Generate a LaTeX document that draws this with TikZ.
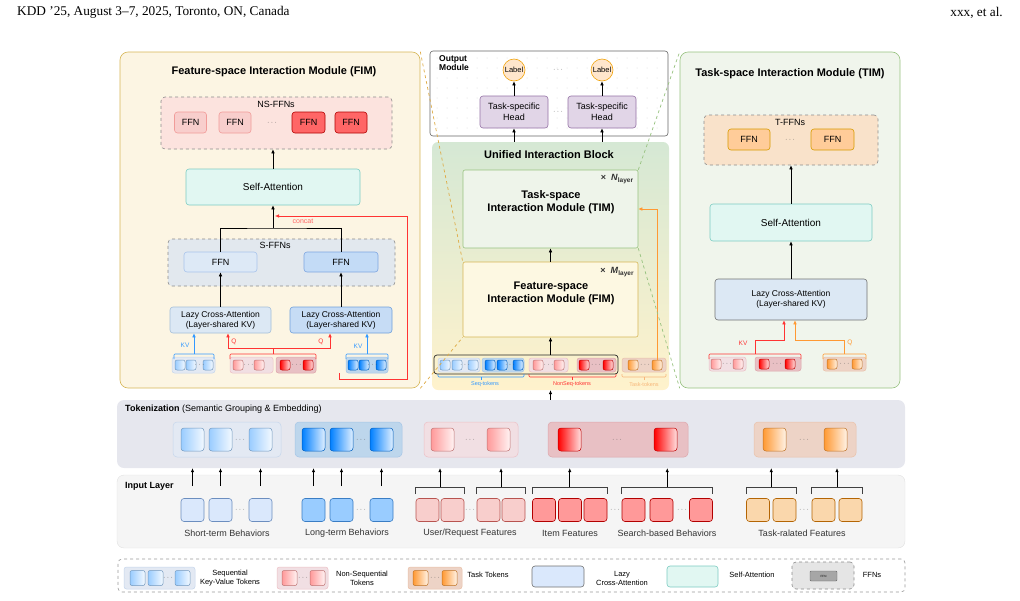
\documentclass[tikz,border=0pt]{standalone}
\usepackage{fontspec}
\setmainfont{Liberation Sans}
\newfontfamily\hdrfont[Ligatures=TeX]{Liberation Serif}
\usepackage{xcolor}
\usetikzlibrary{arrows.meta}

% panel colours
\definecolor{fimfill}{HTML}{FCF5E3}
\definecolor{fimline}{HTML}{D6B656}
\definecolor{timfill}{HTML}{F0F5EC}
\definecolor{timline}{HTML}{97C27F}
\definecolor{nsfill}{HTML}{FCE3DE}
\definecolor{sfill}{HTML}{E2E8EE}
\definecolor{tfill}{HTML}{F9E2CA}
\definecolor{safill}{HTML}{E1F7F2}
\definecolor{saline}{HTML}{7DCCC2}
\definecolor{lcafill}{HTML}{DCE8F4}
\definecolor{lcaline}{HTML}{A4BFD9}
\definecolor{lcafillb}{HTML}{C6DCF5}
\definecolor{lcalineb}{HTML}{6FA0DC}
\definecolor{ffnfill}{HTML}{DDE9F6}
\definecolor{ffnline}{HTML}{A9C4EB}
\definecolor{ffnfillb}{HTML}{C3DBF6}
\definecolor{ffnlineb}{HTML}{7EA6E0}
\definecolor{nslf}{HTML}{F8CECC}
\definecolor{nslline}{HTML}{F19C99}
\definecolor{nsdf}{HTML}{FF6666}
\definecolor{nsdline}{HTML}{B20000}
\definecolor{tffn}{HTML}{FFCC99}
\definecolor{tffnline}{HTML}{D79B00}
\definecolor{headfill}{HTML}{E1D5E7}
\definecolor{headline}{HTML}{9673A6}
\definecolor{labfill}{HTML}{FFE6CC}
\definecolor{labline}{HTML}{F0A30A}
\definecolor{uibtop}{HTML}{D5E8D4}
\definecolor{uibbot}{HTML}{FFF2CC}
\definecolor{timbox}{HTML}{EEF4EA}
\definecolor{fimbox}{HTML}{FDF8E2}
\definecolor{tokzfill}{HTML}{E6E7EE}
\definecolor{inpfill}{HTML}{F5F5F5}
\definecolor{inpline}{HTML}{E0E0E0}
% token colours
\definecolor{tlb}{HTML}{99CCFF}
\definecolor{tdb}{HTML}{007FFF}
\definecolor{tlp}{HTML}{FF9999}
\definecolor{tdr}{HTML}{FF0000}
\definecolor{tor}{HTML}{FF9933}
\definecolor{kvblue}{HTML}{3399FF}
\definecolor{qred}{HTML}{FF3333}
\definecolor{qorange}{HTML}{FF9933}
\definecolor{tasklbl}{HTML}{F7B77A}
% group backgrounds
\definecolor{gblf}{HTML}{E3E9F3}
\definecolor{gbll}{HTML}{C6D6EC}
\definecolor{gdbf}{HTML}{BDD6EC}
\definecolor{gdbl}{HTML}{A5C5E6}
\definecolor{gpkf}{HTML}{F1DFE3}
\definecolor{gpkl}{HTML}{EDC0C6}
\definecolor{gdrf}{HTML}{E8C0C4}
\definecolor{gdrl}{HTML}{DDA6AB}
\definecolor{gorf}{HTML}{EDD3C6}
\definecolor{gorl}{HTML}{EAC1A8}
% input features
\definecolor{stf}{HTML}{DAE8FC}
\definecolor{stl}{HTML}{6C8EBF}
\definecolor{ltf}{HTML}{99CCFF}
\definecolor{ltl}{HTML}{3A7DC4}
\definecolor{urf}{HTML}{F8CECC}
\definecolor{url}{HTML}{B85450}
\definecolor{itf}{HTML}{FF9999}
\definecolor{itl}{HTML}{B20000}
\definecolor{trf}{HTML}{FAD7AC}
\definecolor{trl}{HTML}{B46504}

% a row of equal boxes: prefix, style, y, list of x
\newcommand\tokrow[4]{\foreach \xx [count=\ii] in {#4} \node[#2] (#1\ii) at (\xx,#3) {};}
% bracket above a token group, middle point named
\newcommand\topbrk[5]{\draw[#1, line width=.6pt, rounded corners=1pt] (#2,#4+5) -- (#2,#4) -- coordinate (#5) (#3,#4) -- (#3,#4+5);}
% bracket below a token group
\newcommand\botbrk[5]{\draw[#1, line width=.6pt, rounded corners=1pt] (#2,#4-3) -- (#2,#4) -- coordinate (#5) (#3,#4) -- (#3,#4-3); \draw[#1, line width=.6pt] (#5) -- ++(0,3);}
% bracket over input features, arrow up to the tokenization band
\newcommand\inbrk[3]{\draw[brk] ([yshift=4pt]#1.north west) -- ([yshift=11pt]#1.north west) -- coordinate (#3) ([yshift=11pt]#2.north east) -- ([yshift=4pt]#2.north east); \draw[arr] (#3) -- (#3 |- tokz.south);}

\begin{document}
\begin{tikzpicture}[x=1pt, y=-1pt,
  every node/.style={inner sep=0pt, font=\fontsize{9}{10.5}\selectfont},
  sz/.style 2 args={minimum width=#1pt, minimum height=#2pt},
  box/.style 2 args={fill=#1, draw=#2, rounded corners=3pt, line width=0.6pt},
  dashbox/.style={fill=#1, draw=black!45, dashed, rounded corners=4pt, line width=0.6pt},
  tok/.style={draw=#1!75!black, left color=#1, right color=#1!12, rounded corners=2pt, line width=0.5pt},
  grp/.style 2 args={fill=#1, draw=#2, rounded corners=2.5pt, line width=0.5pt},
  inp/.style 2 args={fill=#1, draw=#2, rounded corners=3pt, line width=0.6pt, minimum size=23pt},
  dotn/.style={font=\fontsize{7}{7}\selectfont, text=black!70},
  arr/.style={-{Latex[length=4pt,width=3.5pt]}, line width=0.6pt},
  brk/.style={line width=0.7pt, black!75},
  ttl/.style={font=\bfseries\fontsize{11}{13}\selectfont},
  small/.style={font=\fontsize{6.5}{7}\selectfont},
]
\useasboundingbox (0,0) rectangle (1020,600);

% page header
\node[font=\hdrfont\fontsize{13.3}{15}\selectfont, anchor=west] (hdl) at (17,12.5) {KDD '25, August 3--7, 2025, Toronto, ON, Canada};
\node[font=\hdrfont\fontsize{13.3}{15}\selectfont, anchor=east] (hdr) at (1003,12.5) {xxx, et al.};

% ---------------- left panel: FIM ----------------
\node[box={fimfill}{fimline}, sz={300}{336}, rounded corners=8pt] (fimp) at (270,220) {};
\node[ttl] (fimt) at (274,72) {Feature-space Interaction Module (FIM)};
\node[dashbox=nsfill, sz={231}{52}] (nsb) at (276.5,123) {};
\node (nsl) at (276,104) {NS-FFNs};
\node[box={nslf}{nslline}, sz={32}{21}] (ns1) at (190.5,122.5) {FFN};
\node[box={nslf}{nslline}, sz={32}{21}] (ns2) at (235,122.5) {FFN};
\node[dotn] (nsd) at (272,122.5) {$\cdots$};
\node[box={nsdf}{nsdline}, sz={33}{21}] (ns3) at (308.5,122.5) {FFN};
\node[box={nsdf}{nsdline}, sz={32}{21}] (ns4) at (351,122.5) {FFN};
\node[box={safill}{saline}, sz={174}{36}, font=\fontsize{10}{12}\selectfont] (sal) at (273,187) {Self-Attention};
\draw[arr] (sal.north) -- (sal.north |- nsb.south);

\node[dashbox=sfill, sz={227}{47}] (sfb) at (281.5,262.5) {};
\node (sfl) at (275,245) {S-FFNs};
\node[box={ffnfill}{ffnline}, sz={73}{20}] (ffa) at (220.5,262) {FFN};
\node[box={ffnfillb}{ffnlineb}, sz={74}{20}] (ffb) at (341,262) {FFN};
\node[box={lcafill}{lcaline}, sz={101}{26}, align=center, font=\fontsize{8.5}{10}\selectfont] (lca) at (220.5,320) {Lazy Cross-Attention\\(Layer-shared KV)};
\node[box={lcafillb}{lcalineb}, sz={102}{26}, align=center, font=\fontsize{8.5}{10}\selectfont] (lcb) at (341,320) {Lazy Cross-Attention\\(Layer-shared KV)};
\draw[arr] (lca) -- (ffa);
\draw[arr] (lcb) -- (ffb);
\coordinate (mrg) at (273,228);
\draw[line width=0.6pt] (ffa.north) |- (mrg) -| (ffb.north);
\draw[arr] (mrg) -- (sal.south);

% tokens feeding the two lazy cross-attentions
\node[grp={gblf}{gbll}, sz={43}{16}] (llb) at (193.5,365) {};
\tokrow{la}{tok=tlb, minimum size=10pt}{365}{180,191,208}
\node[dotn] (lad) at (199.5,365) {$\cdots$};
\node[grp={gpkf}{gpkl}, sz={43}{16}] (llp) at (251.5,365) {};
\tokrow{lb}{tok=tlp, minimum size=10pt}{365}{238,259}
\node[dotn] (lbd) at (248.5,365) {$\cdots$};
\node[grp={gdrf}{gdrl}, sz={40}{16}] (ldr) at (296,365) {};
\tokrow{lc}{tok=tdr, minimum size=10pt}{365}{285,308}
\node[dotn] (lcd) at (296.5,365) {$\cdots$};
\node[grp={gdbf}{gdbl}, sz={42}{16}] (ldb) at (367,365) {};
\tokrow{ld}{tok=tdb, minimum size=10pt}{365}{353,364,381}
\node[dotn] (ldd) at (372.5,365) {$\cdots$};

\topbrk{kvblue}{174}{214}{354}{kva}
\topbrk{qred}{230}{316}{354}{qa}
\topbrk{kvblue}{346}{388}{354}{kvb}
\draw[arr, kvblue] (kva) -- (kva |- lca.south);
\draw[arr, kvblue] (kvb) -- (kvb |- lcb.south);
\draw[arr, qred] (qa) -- ++(0,-6) -| ([xshift=7.5pt]lca.south);
\draw[arr, qred] (qa) -- ++(0,-6) -| ([xshift=-11pt]lcb.south);
\node[small, text=kvblue] (kvla) at (185,345) {KV};
\node[small, text=kvblue] (kvlb) at (358,346) {KV};
\node[small, text=qred] (qla) at (234,342) {Q};
\node[small, text=qred] (qlb) at (321,342) {Q};

% concat path from the long-term tokens
\coordinate (cct) at (407,216);
\draw[arr, qred] ([xshift=-6pt]ldb.south west) -- ++(0,6) -| (cct) -- ([xshift=2pt]cct -| sal.south);
\node[font=\fontsize{7}{8}\selectfont, text=nsdf] (ccl) at (303,221) {concat};

% ---------------- middle: output module ----------------
\node[draw=black!60, fill=white, rounded corners=3pt, sz={238}{85}, line width=0.6pt] (outm) at (549,93.5) {};
\foreach \gx in {437,447,...,661} \foreach \gy in {58,68,...,128} \fill[black!15] (\gx,\gy) circle (0.5);
\node[font=\bfseries\fontsize{8.5}{9.5}\selectfont, align=left, anchor=north west] (outt) at (439,55) {Output\\Module};
\node[circle, fill=labfill, draw=labline, minimum size=22pt, line width=0.6pt, font=\fontsize{7.5}{8}\selectfont] (lab1) at (514,70) {Label};
\node[circle, fill=labfill, draw=labline, minimum size=22pt, line width=0.6pt, font=\fontsize{7.5}{8}\selectfont] (lab2) at (602,70) {Label};
\node[dotn] (labd) at (558,70) {$\cdots$};
\node[box={headfill}{headline}, sz={68}{32}, align=center] (hd1) at (514,112) {Task-specific\\Head};
\node[box={headfill}{headline}, sz={68}{32}, align=center] (hd2) at (602,112) {Task-specific\\Head};
\node[dotn] (hdd) at (558,112) {$\cdots$};
\draw[arr] (hd1) -- (lab1);
\draw[arr] (hd2) -- (lab2);

% ---------------- middle: unified interaction block ----------------
\node[top color=uibtop, bottom color=uibbot, rounded corners=6pt, sz={237}{248}] (uib) at (550.5,266) {};
\draw[arr] (hd1 |- uib.north) -- (hd1);
\draw[arr] (hd2 |- uib.north) -- (hd2);
\node[ttl] (uibt) at (549,155) {Unified Interaction Block};
\node[box={timbox}{timline}, sz={175}{78}, rounded corners=2pt] (timb) at (550.5,209) {};
\node[ttl, align=center] (timtx) at (551,202) {Task-space\\Interaction Module (TIM)};
\node[text=black!80] (nly) at (617,179) {\textbf{×}\hspace{5pt}\textbf{\textit{N}}\raisebox{-1.8pt}{\fontsize{6.5}{7}\selectfont\textbf{layer}}};
\node[box={fimbox}{fimline}, sz={175}{75}, rounded corners=2pt] (fimb) at (550.5,299.5) {};
\node[ttl, align=center] (fimtx) at (551,293.5) {Feature-space\\Interaction Module (FIM)};
\node[text=black!80] (mly) at (617,272) {\textbf{×}\hspace{5pt}\textbf{\textit{M}}\raisebox{-1.8pt}{\fontsize{6.5}{7}\selectfont\textbf{layer}}};
\draw[arr] (fimb) -- (timb);

\node[draw=black!85, rounded corners=3pt, sz={184}{19}, line width=0.7pt] (urow) at (526,364.5) {};
\node[grp={gblf}{gbll}, sz={42}{14}] (ug1) at (459,365) {};
\tokrow{ua}{tok=tlb, minimum size=10pt}{365}{445,457,473}
\node[dotn] (uad) at (465,365) {$\cdots$};
\node[grp={gdbf}{gdbl}, sz={42}{14}] (ug2) at (503,365) {};
\tokrow{ub}{tok=tdb, minimum size=10pt}{365}{490,502,518}
\node[dotn] (ubd) at (510,365) {$\cdots$};
\node[grp={gpkf}{gpkl}, sz={39}{14}] (ug3) at (548.5,365) {};
\tokrow{uc}{tok=tlp, minimum size=10pt}{365}{538,559}
\node[dotn] (ucd) at (548.5,365) {$\cdots$};
\node[grp={gdrf}{gdrl}, sz={39}{14}] (ug4) at (596.5,365) {};
\tokrow{ud}{tok=tdr, minimum size=10pt}{365}{584,608}
\node[dotn] (udd) at (596,365) {$\cdots$};
\node[grp={gorf}{gorl}, sz={44}{14}] (ug5) at (644,365) {};
\tokrow{ue}{tok=tor, minimum size=10pt}{365}{633,657}
\node[dotn] (ued) at (645,365) {$\cdots$};
\draw[arr] (fimb.south |- urow.north) -- (fimb.south);
\draw[arr, qorange] (ue2.north) |- (timb.east);

\botbrk{kvblue}{438}{524}{377}{sqb}
\botbrk{qred}{529}{616}{377}{nqb}
\botbrk{tasklbl}{622}{666}{377}{tkb}
\node[font=\fontsize{5.5}{6}\selectfont, text=kvblue] (sql) at (485,384.5) {Seq-tokens};
\node[font=\fontsize{5.5}{6}\selectfont, text=qred] (nql) at (572,384.5) {NonSeq-tokens};
\node[font=\fontsize{5.5}{6}\selectfont, text=tasklbl] (tkl) at (644,384.5) {Task-tokens};

% ---------------- right panel: TIM ----------------
\node[box={timfill}{timline}, sz={220}{336}, rounded corners=8pt] (timp) at (790,220) {};
\node[ttl] (timt) at (790,74) {Task-space Interaction Module (TIM)};
\node[dashbox=tfill, sz={174}{50}] (tfb) at (791,140) {};
\node (tfl) at (790,122) {T-FFNs};
\node[box={tffn}{tffnline}, sz={42}{21}] (tf1) at (749,139.5) {FFN};
\node[box={tffn}{tffnline}, sz={43}{21}] (tf2) at (832.5,139.5) {FFN};
\node[dotn] (tfd) at (790,140) {$\cdots$};
\node[box={safill}{saline}, sz={162}{37}, font=\fontsize{10}{12}\selectfont] (sar) at (791,222.5) {Self-Attention};
\node[box={lcafill}{black!55}, sz={152}{41}, align=center, font=\fontsize{8.5}{10}\selectfont] (lcr) at (791,299.5) {Lazy Cross-Attention\\(Layer-shared KV)};
\draw[arr] (sar.north) -- (sar.north |- tfb.south);
\draw[arr] (lcr) -- (sar);

\node[grp={gpkf}{gpkl}, sz={37}{14}] (rg1) at (727.5,364) {};
\tokrow{ra}{tok=tlp, minimum size=10pt}{364}{716,738}
\node[dotn] (rad) at (727,364) {$\cdots$};
\node[grp={gdrf}{gdrl}, sz={46}{14}] (rg2) at (778,364) {};
\tokrow{rb}{tok=tdr, minimum size=10pt}{364}{764,790}
\node[dotn] (rbd) at (777,364) {$\cdots$};
\node[grp={gorf}{gorl}, sz={43}{14}] (rg3) at (844.5,364) {};
\tokrow{rc}{tok=tor, minimum size=10pt}{364}{832,857}
\node[dotn] (rcd) at (844.5,364) {$\cdots$};
\topbrk{qred}{709}{801}{354}{kvr}
\topbrk{qorange}{823}{866}{354}{qr}
\draw[arr, qred] (kvr) -- ++(0,-14) -| ([xshift=-7pt]lcr.south);
\draw[arr, qorange] (qr) -- ++(0,-14) -| ([xshift=4pt]lcr.south);
\node[small, text=qred] (kvlr) at (743,343) {KV};
\node[small, text=qorange] (qlr) at (850,343) {Q};

% ---------------- tokenization ----------------
\node[fill=tokzfill, rounded corners=7pt, sz={788}{68}] (tokz) at (511,434) {};
\draw[arr] (uib.south |- tokz.north) -- (uib.south);
\node[anchor=west] (tokzt) at (125,409) {\textbf{Tokenization} (Semantic Grouping \& Embedding)};
\node[grp={gblf}{gbll}, sz={108}{35}, rounded corners=4pt] (tg1) at (227,439.5) {};
\tokrow{ta}{tok=tlb, minimum size=23pt, rounded corners=3pt}{439.5}{192.5,220.5,260.5}
\node[dotn] (tad) at (240,439.5) {$\cdots$};
\node[grp={gdbf}{gdbl}, sz={107}{35}, rounded corners=4pt] (tg2) at (348.5,439.5) {};
\tokrow{tb}{tok=tdb, minimum size=23pt, rounded corners=3pt}{439.5}{313.5,341.5,381.5}
\node[dotn] (tbd) at (361,439.5) {$\cdots$};
\node[grp={gpkf}{gpkl}, sz={94}{35}, rounded corners=4pt] (tg3) at (471,439.5) {};
\tokrow{tc}{tok=tlp, minimum size=23pt, rounded corners=3pt}{439.5}{442.5,498.5}
\node[dotn] (tcd) at (470,439.5) {$\cdots$};
\node[grp={gdrf}{gdrl}, sz={140}{35}, rounded corners=4pt] (tg4) at (618,439.5) {};
\tokrow{td}{tok=tdr, minimum size=23pt, rounded corners=3pt}{439.5}{569.5,665.5}
\node[dotn] (tdd) at (617,439.5) {$\cdots$};
\node[grp={gorf}{gorl}, sz={102}{35}, rounded corners=4pt] (tg5) at (805,439.5) {};
\tokrow{te}{tok=tor, minimum size=23pt, rounded corners=3pt}{439.5}{774.5,835.5}
\node[dotn] (ted) at (804,439.5) {$\cdots$};

% ---------------- input layer ----------------
\node[fill=inpfill, draw=inpline, rounded corners=7pt, sz={788}{73}] (inpb) at (511,511.5) {};
\node[anchor=west, font=\bfseries\fontsize{9}{10}\selectfont] (inpt) at (125,486) {Input Layer};
\tokrow{st}{inp={stf}{stl}}{510}{192.5,220.5,260.5}
\tokrow{lt}{inp={ltf}{ltl}}{510}{313.5,341.5,381.5}
\tokrow{ur}{inp={urf}{url}}{510}{427.5,452.5,488.5,513.5}
\tokrow{it}{inp={itf}{itl}}{510}{544,570,595.5}
\tokrow{sb}{inp={itf}{itl}}{510}{633.5,661.5,701}
\tokrow{tr}{inp={trf}{trl}}{510}{758,784.5,823.5,850.5}
\node[dotn] (std) at (240,510) {$\cdots$};
\node[dotn] (ltd) at (361,510) {$\cdots$};
\node[dotn] (urd) at (470,510) {$\cdots$};
\node[dotn] (itd) at (615,510) {$\cdots$};
\node[dotn] (sbd) at (682,510) {$\cdots$};
\node[dotn] (trd) at (804,510) {$\cdots$};
\foreach \n in {st1,st2,st3,lt1,lt2,lt3} \draw[arr] ([yshift=12pt]\n.north) -- (\n |- tokz.south);
\inbrk{ur1}{ur2}{ub1}
\inbrk{ur3}{ur4}{ub2}
\inbrk{it1}{it3}{ib}
\inbrk{sb1}{sb3}{sbm}
\inbrk{tr1}{tr2}{trm1}
\inbrk{tr3}{tr4}{trm2}
\node[text=black!80] (stt) at (227,533) {Short-term Behaviors};
\node[text=black!80] (ltt) at (347,533) {Long-term Behaviors};
\node[text=black!80] (urt) at (470,533) {User/Request Features};
\node[text=black!80] (itt) at (570,533) {Item Features};
\node[text=black!80] (sbt) at (667,533) {Search-based Behaviors};
\node[text=black!80] (trt) at (802,533) {Task-ralated Features};

% ---------------- legend ----------------
\node[draw=black!40, dashed, fill=white, rounded corners=4pt, sz={787}{33}, line width=0.6pt] (lgd) at (511.5,575.5) {};
\node[grp={gblf}{gbll}, sz={71}{22}] (lg1) at (159.5,578) {};
\tokrow{lka}{tok=tlb, minimum size=15pt}{578}{137.5,155.5,182.5}
\node[dotn] (lkad) at (168,578) {$\cdots$};
\node[align=center, font=\fontsize{7.5}{9}\selectfont] (lgt1) at (230,578) {Sequential\\Key-Value Tokens};
\node[grp={gpkf}{gpkl}, sz={51}{22}] (lg2) at (302.5,578) {};
\tokrow{lkb}{tok=tlp, minimum size=15pt}{578}{289.5,317.5}
\node[dotn] (lkbd) at (303,578) {$\cdots$};
\node[align=center, font=\fontsize{7.5}{9}\selectfont] (lgt2) at (362,578) {Non-Sequential\\Tokens};
\node[grp={gorf}{gorl}, sz={54}{22}] (lg3) at (435,578) {};
\tokrow{lkc}{tok=tor, minimum size=15pt}{578}{420.5,449.5}
\node[dotn] (lkcd) at (435,578) {$\cdots$};
\node[font=\fontsize{7.5}{9}\selectfont] (lgt3) at (488,575) {Task Tokens};
\node[box={stf}{black!55}, sz={52}{21}] (lg4) at (558,576.5) {};
\node[align=center, font=\fontsize{7.5}{9}\selectfont] (lgt4) at (622,578) {Lazy\\Cross-Attention};
\node[box={safill}{saline}, sz={51}{21}] (lg5) at (692.5,576.5) {};
\node[font=\fontsize{7.5}{9}\selectfont] (lgt5) at (752,575) {Self-Attention};
\node[dashbox=black!10, sz={62}{27}] (lg6) at (823,575.5) {};
\node[fill=black!35, draw=black!60, sz={27}{10}, rounded corners=1pt, font=\fontsize{3}{3}\selectfont] (lg6f) at (823.5,576) {FFN};
\node[font=\fontsize{7.5}{9}\selectfont] (lgt6) at (872,575) {FFNs};

% ---------------- zoom connectors ----------------
\draw[dashed, fimline!80!orange, line width=0.7pt] (fimp.north east) -- (fimb.north west);
\draw[dashed, fimline!80!orange, line width=0.7pt] (fimp.south east) -- (fimb.south west);
\draw[dashed, timline, line width=0.7pt] (timb.north east) -- (timp.north west);
\draw[dashed, timline, line width=0.7pt] (timb.south east) -- (timp.south west);
\end{tikzpicture}
\end{document}
